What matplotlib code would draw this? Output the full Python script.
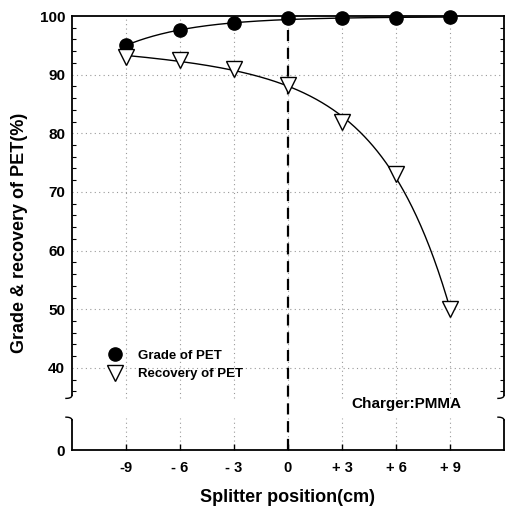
import numpy as np
import matplotlib
matplotlib.use("Agg")
import matplotlib.pyplot as plt
from matplotlib.ticker import FixedLocator

plt.rcParams['font.family'] = ['Liberation Sans', 'DejaVu Sans']
plt.rcParams['font.weight'] = 'bold'

# data
positions = [-9, -6, -3, 0, 3, 6, 9]
pos_labels = ['-9', '- 6', '- 3', '0', '+ 3', '+ 6', '+ 9']
grade = [95.0, 97.6, 98.8, 99.6, 99.6, 99.6, 99.9]
recovery = [93.0, 92.5, 91.0, 88.2, 82.0, 73.0, 50.0]
y_ticks = [0, 40, 50, 60, 70, 80, 90, 100]

# broken y axis: the 0 label sits at 26 on the internal scale
Y0 = 26.0
BRK_HI, BRK_LO = 34.9, 31.5


def ymap(v):
    v = np.asarray(v, dtype=float)
    return np.where(v >= 40, v, Y0 + v * (40 - Y0) / 40)


def exp_fit(x, y, xs, sign, linear=False):
    # y = a (+ m*x) + b*exp(c*x), c scanned, the rest by least squares
    x = np.asarray(x, float)
    y = np.asarray(y, float)
    best = None
    for c in np.linspace(0.02, 1.0, 400) * sign:
        cols = [np.ones_like(x), np.exp(c * x)] + ([x] if linear else [])
        A = np.column_stack(cols)
        coef, *_ = np.linalg.lstsq(A, y, rcond=None)
        err = np.sum((A @ coef - y) ** 2)
        if best is None or err < best[0]:
            best = (err, c, coef)
    _, c, coef = best
    cols = [np.ones_like(xs), np.exp(c * xs)] + ([xs] if linear else [])
    return np.column_stack(cols) @ coef


fig = plt.figure(figsize=(5.06, 5.12), dpi=100)
ax = fig.add_axes([72 / 506, 62 / 512, 432 / 506, 434 / 512])
ax.set_xlim(-12, 12)
ax.set_ylim(Y0, 100)

# fitted smooth curves
xs = np.linspace(-9, 9, 300)
g_fit = exp_fit(positions, grade, xs, -1)
r_fit = exp_fit(positions, recovery, xs, 1, linear=True)
ax.plot(xs, np.minimum(g_fit, 100), color='black', lw=1.0, zorder=3)
ax.plot(xs, r_fit, color='black', lw=1.0, zorder=3)

ax.plot(positions, ymap(grade), 'o', ms=9.5, mfc='black', mec='black',
        label='Grade of PET', zorder=5, clip_on=False)
ax.plot(positions, ymap(recovery), 'v', ms=11, mfc='white', mec='black',
        mew=1.0, label='Recovery of PET', zorder=5)

ax.plot([0, 0], [Y0, 100], color='black', lw=1.6, ls=(0, (5, 3)), zorder=4)

# grid (dotted) with gap at the break
for x in positions:
    ax.plot([x, x], [BRK_HI, 100], color='#999999', lw=0.8, ls=(0, (1, 3)), zorder=1)
    ax.plot([x, x], [Y0, BRK_LO], color='#999999', lw=0.8, ls=(0, (1, 3)), zorder=1)
for y in y_ticks[1:-1]:
    ax.axhline(y, color='#999999', lw=0.8, ls=(0, (1, 3)), zorder=1)

# spines with break
ax.spines['left'].set_visible(False)
ax.spines['right'].set_visible(False)
ax.spines['top'].set_linewidth(1.3)
ax.spines['bottom'].set_linewidth(1.3)
tr = ax.get_yaxis_transform()
for sx in (0.0, 1.0):
    ax.plot([sx, sx], [BRK_HI + 0.4, 100], color='black', lw=1.3, transform=tr, clip_on=False)
    ax.plot([sx, sx], [Y0, BRK_LO - 0.4], color='black', lw=1.3, transform=tr, clip_on=False)
    t = np.linspace(0, 1, 12)
    hx = sx - 0.014 * t ** 2
    ax.plot(np.r_[sx, hx], np.r_[BRK_HI + 0.4, BRK_HI + 0.4 - 0.5 * np.sin(t * np.pi / 2)],
            color='black', lw=1.0, transform=tr, clip_on=False)
    ax.plot(np.r_[sx, hx], np.r_[BRK_LO - 0.4, BRK_LO - 0.4 + 0.5 * np.sin(t * np.pi / 2)],
            color='black', lw=1.0, transform=tr, clip_on=False)

ax.set_xticks(positions)
ax.set_xticklabels(pos_labels)
ax.set_yticks(ymap(y_ticks))
ax.set_yticklabels([str(v) for v in y_ticks])
ax.yaxis.set_minor_locator(FixedLocator(np.arange(36, 100, 2)))
ax.tick_params(axis='x', direction='in', length=4, width=1, pad=8, labelsize=10.5)
ax.tick_params(axis='y', which='major', direction='in', length=0, pad=5, labelsize=11,
               left=True, right=True)
ax.tick_params(axis='y', which='minor', direction='in', length=3, width=0.8,
               left=True, right=True)

ax.set_xlabel('Splitter position(cm)', fontsize=13, fontweight='bold')
ax.xaxis.set_label_coords(0.5, -0.090)
ax.set_ylabel('Grade & recovery of PET(%)', fontsize=13, fontweight='bold')
ax.yaxis.set_label_coords(-0.102, 0.5)

ax.legend(loc='center left', bbox_to_anchor=(0.076, 0.196), frameon=False,
          fontsize=9.5, handlelength=1.5, handletextpad=1.0, labelspacing=0.5,
          borderpad=0, borderaxespad=0)

ax.text(0.773, (33.9 - Y0) / (100 - Y0), 'Charger:PMMA', transform=ax.transAxes,
        ha='center', va='center', fontsize=11, fontweight='bold')

fig.savefig('out.png', dpi=100)
